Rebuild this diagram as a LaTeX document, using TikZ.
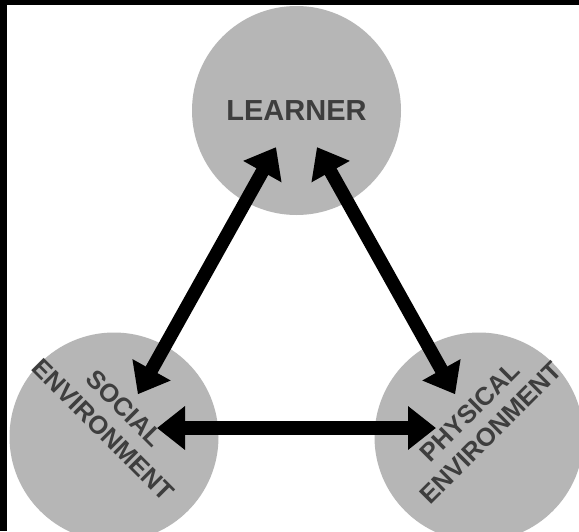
\documentclass[tikz,border=0pt]{standalone}
\usepackage{fontspec}
\setmainfont{Liberation Sans}
\usetikzlibrary{arrows.meta,calc}
\definecolor{circgray}{RGB}{182,182,182}
\definecolor{txtgray}{RGB}{62,62,62}
\begin{document}
\begin{tikzpicture}[x=1pt,y=-1pt,
  bubble/.style={circle, fill=circgray, minimum size=209pt, inner sep=0pt, text=txtgray, font=\bfseries\fontsize{29}{33}\selectfont},
  lbl/.style={text=txtgray, font=\bfseries\fontsize{25.5}{30}\selectfont, align=center, inner sep=0pt},
  arr/.style={line width=13.5pt, {Triangle[length=28pt,width=42pt]}-{Triangle[length=28pt,width=42pt]}}]
\useasboundingbox (0,0) rectangle (579,531);
\clip (0,0) rectangle (579,531);
\fill[white] (0,0) rectangle (579,531);
\node[bubble] (L) at (296.5,110.5) {LEARNER};
\node[bubble] (S) at (114,437) {};
\node[bubble] (P) at (479,437) {};
\node[lbl, rotate=-45] (ST) at (114,419) {SOCIAL\\ENVIRONMENT};
\node[lbl, rotate=45] (PT) at (480,422) {PHYSICAL\\ENVIRONMENT};
\draw[arr] ($(L)!42pt!(S)$) -- ($(S)!49pt!(L)$);
\draw[arr] ($(L)!42pt!(P)$) -- ($(P)!49pt!(L)$);
\draw[arr] ($(S)!43pt!(P)+(0pt,9pt)$) -- ($(P)!43pt!(S)+(0pt,9pt)$);
\fill (0,0) rectangle (7,531);
\fill (0,0) rectangle (579,4.5);
\end{tikzpicture}
\end{document}
